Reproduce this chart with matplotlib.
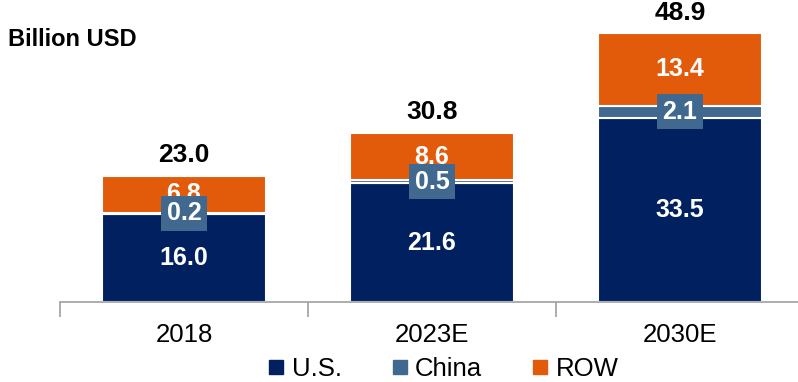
import matplotlib.pyplot as plt
from matplotlib.lines import Line2D

plt.rcParams['font.family'] = ['Liberation Sans', 'DejaVu Sans']

years = ['2018', '2023E', '2030E']
us = [16.0, 21.6, 33.5]
china = [0.2, 0.5, 2.1]
row = [6.8, 8.6, 13.4]
totals = [23.0, 30.8, 48.9]

c_us = '#002060'
c_china = '#41698F'
c_row = '#E25B0A'

fig = plt.figure(figsize=(7.98, 3.82), dpi=100)
ax = fig.add_axes([60 / 798, 80 / 382, 744 / 798, 286 / 382])

x = list(range(len(years)))
w = 0.66
bottom2 = [a + b for a, b in zip(us, china)]
ax.bar(x, us, w, color=c_us, edgecolor='white', linewidth=1.5)
ax.bar(x, china, w, bottom=us, color=c_china, edgecolor='white', linewidth=1.5)
ax.bar(x, row, w, bottom=bottom2, color=c_row, edgecolor='white', linewidth=1.5)

for i in x:
    ax.text(i, us[i] / 2, f'{us[i]:.1f}', ha='center', va='center',
            color='white', fontsize=18, fontweight='bold')
    ax.text(i, bottom2[i] + row[i] / 2, f'{row[i]:.1f}', ha='center', va='center',
            color='white', fontsize=18, fontweight='bold')
    # china share is thin, so its label sits in a box over the segment
    ax.text(i, us[i] + china[i] / 2, f'{china[i]:.1f}', ha='center', va='center',
            color='white', fontsize=18, fontweight='bold',
            bbox=dict(boxstyle='square,pad=0.22', fc=c_china, ec='none'))
    ax.annotate(f'{totals[i]:.1f}', (i, totals[i]), xytext=(0, 6),
                textcoords='offset points', ha='center', va='bottom',
                fontsize=19, fontweight='bold')

ax.set_xlim(-0.5, 2.5)
ax.set_ylim(0, 52)
ax.set_yticks([])
for s in ['top', 'right', 'left']:
    ax.spines[s].set_visible(False)
ax.spines['bottom'].set_color('#A0A0A0')
ax.spines['bottom'].set_linewidth(1.2)

ax.set_xticks(x)
ax.set_xticklabels(years, fontsize=18.5)
ax.tick_params(axis='x', which='major', length=0, pad=15)
ax.set_xticks([-0.5, 0.5, 1.5], minor=True)
ax.tick_params(axis='x', which='minor', length=11, width=1.2, color='#A0A0A0')

fig.text(8 / 798, 1 - 40 / 382, 'Billion USD', fontsize=17, fontweight='bold',
         va='center', ha='left')

handles = [Line2D([], [], marker='s', linestyle='none', markersize=9.5, color=c)
           for c in (c_us, c_china, c_row)]
fig.legend(handles, ['U.S.', 'China', 'ROW'], loc='center', ncol=3,
           bbox_to_anchor=(441 / 798, 1 - 369 / 382), frameon=False, fontsize=18.5,
           handletextpad=0.1, columnspacing=1.75, handlelength=1.0,
           borderpad=0.0)

fig.savefig('out.png', dpi=100)
